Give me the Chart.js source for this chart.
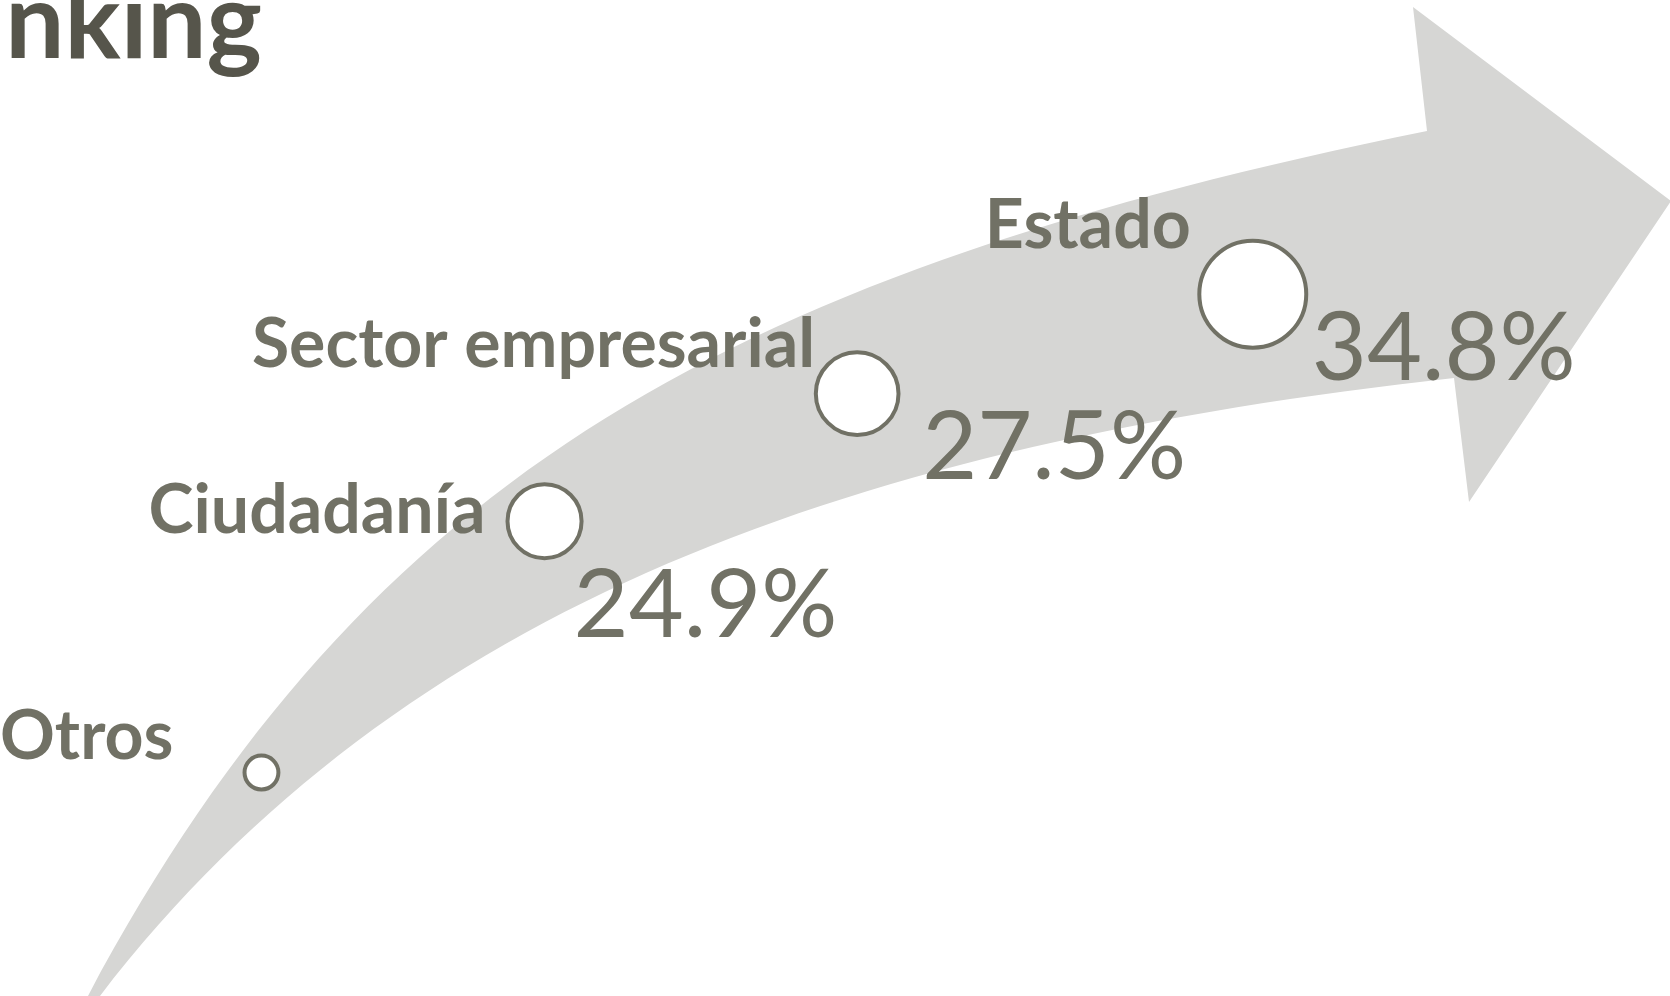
<!DOCTYPE html>
<html>
<head>
<meta charset="utf-8">
<script src="https://cdn.jsdelivr.net/npm/chart.js@4.4.1/dist/chart.umd.min.js"></script>
<style>
  html, body { margin: 0; padding: 0; background: #fff; overflow: hidden; }
  canvas { display: block; }
</style>
</head>
<body>
<canvas id="chart" width="1670" height="996"></canvas>
<script>
// ranking, from the tail of the arrow to its tip
const categories = ['Otros', 'Ciudadanía', 'Sector empresarial', 'Estado'];
const shares = [12.8, 24.9, 27.5, 34.8];
const showShare = [false, true, true, true];

// running total along the ranking, this places each bubble on the arrow
const cumulative = [];
let running = 0;
shares.forEach(v => {
    running += v;
    cumulative.push(Math.round(running * 10) / 10);
});

const textColor = '#717165';

// label placement next to each bubble, in px from its centre
const nameOffset = [[-88, -14], [-59, 12], [-42, -27], [-62, -46]];
const shareOffset = [[0, 0], [29, 116], [65, 85], [59, 86]];

// the big grey arrow behind the bubbles (decoration only)
const arrowPlugin = {
    id: 'arrowBackdrop',
    beforeDatasetsDraw(chart) {
        const ctx = chart.ctx;
        ctx.save();
        ctx.fillStyle = '#d6d6d4';
        ctx.beginPath();
        ctx.moveTo(88, 996);
        ctx.bezierCurveTo(370, 468, 741, 271, 1427, 131);
        ctx.lineTo(1413, 7);
        ctx.lineTo(1671, 201);
        ctx.lineTo(1469, 502);
        ctx.lineTo(1454, 378);
        ctx.bezierCurveTo(858, 444, 405, 601, 100, 996);
        ctx.closePath();
        ctx.fill();
        ctx.restore();
    }
};

const labelPlugin = {
    id: 'rankLabels',
    afterDatasetsDraw(chart) {
        const ctx = chart.ctx;
        const meta = chart.getDatasetMeta(0);
        ctx.save();
        ctx.fillStyle = textColor;
        ctx.textBaseline = 'alphabetic';
        meta.data.forEach((pt, i) => {
            ctx.font = 'bold 68px Lato';
            ctx.textAlign = 'right';
            ctx.fillText(categories[i], pt.x + nameOffset[i][0], pt.y + nameOffset[i][1]);
            if (showShare[i]) {
                ctx.font = '95px Lato';
                ctx.textAlign = 'left';
                ctx.fillText(shares[i].toFixed(1) + '%', pt.x + shareOffset[i][0], pt.y + shareOffset[i][1]);
            }
        });
        // title, cut by the top left corner like in the original
        ctx.fillStyle = '#56554b';
        ctx.font = 'bold 105px Lato';
        ctx.textAlign = 'right';
        ctx.fillText('Ranking', 262, 58);
        ctx.restore();
    }
};

new Chart(document.getElementById('chart'), {
    type: 'bubble',
    data: {
        datasets: [{
            label: 'Ranking',
            data: shares.map((v, i) => ({ x: cumulative[i], y: cumulative[i] })),
            backgroundColor: '#ffffff',
            borderColor: textColor,
            borderWidth: 4,
            radius: ctx => 1.66 * shares[ctx.dataIndex] - 4.3,
            hoverRadius: 0
        }]
    },
    options: {
        responsive: false,
        animation: false,
        devicePixelRatio: 1,
        layout: { padding: 0, autoPadding: false },
        plugins: {
            legend: { display: false },
            tooltip: { enabled: false }
        },
        scales: {
            x: { type: 'linear', display: false, min: -10.2, max: 136.7 },
            y: { type: 'logarithmic', display: false, min: 4.9, max: 354 }
        }
    },
    plugins: [arrowPlugin, labelPlugin]
});
</script>
</body>
</html>
